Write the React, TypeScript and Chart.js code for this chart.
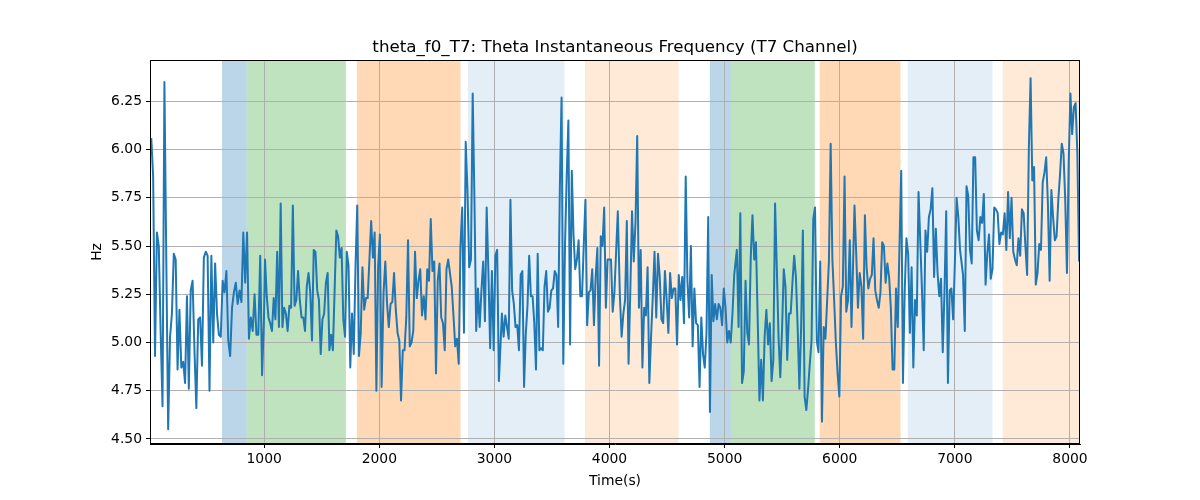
import React, { useEffect, useRef } from 'react';
import { Chart, registerables } from 'chart.js';

Chart.register(...registerables);

// samples, one list per stretch of the recording
const seg1 = [6.06, 5.86, 4.93, 5.57, 5.5, 5.05, 4.67, 6.35, 5.43, 4.55, 5.03, 5.15, 5.46, 5.43, 4.86, 5.17, 4.87, 4.9, 4.79, 5.24, 4.76, 5.27, 5.32, 4.96, 4.66, 5.12, 5.13, 4.88, 5.44, 5.47, 5.45, 4.75, 5.45, 5.0, 5.41, 5.15, 5.04, 5.03, 5.32, 5.26, 5.37, 5.01, 4.93, 5.18, 5.26, 5.31, 5.2, 5.27, 5.21, 5.57, 5.31, 5.57, 5.02, 5.13, 5.06, 5.25, 5.04, 5.04, 5.45, 4.83, 5.12];
const seg2 = [5.43, 5.24, 5.13, 5.1, 5.06, 5.23, 5.12, 5.47, 5.08, 5.72, 5.08, 5.18, 5.15, 5.06, 5.19, 5.18, 5.71, 5.19, 5.22, 5.37, 5.22, 5.13, 5.13, 5.06, 5.29, 5.36, 5.26, 5.01, 5.48, 5.47, 5.27, 5.22, 4.94, 5.12, 5.15, 5.31, 5.36, 4.96, 5.04, 4.96, 5.27, 5.58, 5.55, 5.44, 5.49, 5.12, 5.03, 5.47, 5.4, 4.87, 5.15, 4.94, 5.39, 5.71, 4.93, 5.05, 5.39, 5.17, 5.23, 5.23, 5.43, 5.63, 5.44, 5.57, 4.75, 5.39, 5.56, 4.77];
const seg3 = [5.26, 5.42, 5.2, 5.08, 5.2, 5.21, 5.36, 5.17, 5.05, 5.01, 4.7, 4.96, 4.96, 5.13, 5.53, 4.98, 5.0, 5.06, 5.47, 5.23, 5.32, 5.38, 5.14, 5.24, 5.12, 5.38, 5.32, 5.64, 5.37, 5.42, 4.84, 5.32, 5.41, 5.13, 5.1, 4.96, 5.38, 5.43, 5.36, 5.29, 5.14, 4.98, 5.02, 4.89, 5.5, 5.7, 5.05, 6.04, 5.79, 5.39, 5.43, 6.29, 5.74, 5.06, 5.28, 5.08, 5.27, 5.42, 5.11, 5.7, 5.36, 4.97, 5.37, 4.96, 5.45, 5.48, 4.8];
const seg4 = [5.15, 5.03, 5.14, 5.08, 5.02, 5.74, 5.27, 5.2, 5.08, 5.09, 4.96, 5.35, 5.37, 4.77, 5.04, 5.19, 5.45, 5.24, 5.24, 5.1, 4.86, 5.46, 4.96, 4.97, 4.96, 5.29, 5.37, 5.16, 5.18, 5.27, 5.28, 5.37, 5.35, 5.08, 5.81, 6.27, 4.89, 5.49, 5.86, 6.15, 4.99, 5.89, 5.56, 5.38, 5.43, 5.53, 5.24, 5.24, 5.5, 5.74, 5.09, 5.26, 5.27, 5.38, 5.09, 5.34, 5.49, 4.88, 5.55, 5.5, 5.7, 5.18, 5.43, 5.43, 5.43, 5.16, 5.26, 5.47, 5.68];
const seg5 = [5.24, 5.03, 5.15, 5.22, 5.63, 4.89, 5.26, 5.68, 5.42, 5.62, 6.07, 5.18, 5.48, 4.87, 5.18, 5.14, 5.39, 4.79, 5.03, 5.24, 5.47, 5.13, 5.46, 5.34, 5.12, 5.1, 5.37, 5.22, 5.05, 5.36, 5.23, 5.28, 5.28, 4.99, 5.35, 5.22, 5.34, 5.1, 5.86, 5.32, 5.13, 5.5, 4.98, 5.28, 5.1, 5.09, 4.77, 5.13, 4.94, 4.87, 5.05, 5.65, 4.64, 5.35, 5.11, 5.2, 5.12, 5.2, 5.18, 5.09, 5.28, 5.18, 5.0, 5.06, 5.0, 5.15, 5.35];
const seg6 = [5.48, 5.08, 5.67, 4.79, 4.85, 5.32, 5.05, 4.99, 5.44, 5.66, 5.43, 5.52, 5.12, 4.7, 4.91, 4.7, 5.03, 5.17, 4.99, 5.1, 4.8, 4.91, 5.72, 5.39, 5.03, 4.82, 5.06, 5.38, 5.29, 4.91, 5.15, 5.15, 5.31, 5.45, 5.34, 5.08, 4.76, 5.08, 5.58, 4.72, 4.65, 4.76, 4.89, 5.01, 5.64, 5.7, 5.01, 4.95, 5.42, 4.59, 5.08, 5.02, 5.22, 5.42, 6.03, 5.43, 5.22, 5.0, 4.84, 4.72, 5.24, 5.29, 5.86, 5.16, 5.22, 5.53, 5.08];
const seg7 = [5.34, 5.71, 5.46, 5.18, 5.36, 5.29, 5.02, 5.66, 5.39, 5.28, 5.33, 5.35, 5.54, 5.27, 5.22, 5.18, 5.26, 5.52, 5.5, 5.31, 5.41, 5.34, 5.18, 4.86, 4.86, 5.28, 5.08, 5.5, 5.89, 4.79, 5.26, 5.54, 5.46, 5.05, 5.39, 4.87, 5.22, 5.14, 5.78, 5.53, 5.27, 4.96, 5.58, 5.47, 5.65, 5.69, 5.8, 5.34, 5.59, 5.36, 5.24, 5.33, 4.95, 5.26, 5.68, 4.79, 5.27, 5.28, 5.12, 5.41, 5.75, 5.65, 5.48];
const seg8 = [5.35, 5.06, 5.81, 5.76, 5.48, 5.41, 5.96, 5.96, 5.58, 5.53, 5.65, 5.62, 5.77, 5.3, 5.46, 5.56, 5.33, 5.38, 5.7, 5.69, 5.67, 5.51, 5.57, 5.56, 5.67, 5.48, 5.78, 5.54, 5.75, 5.47, 5.43, 5.4, 5.54, 5.45, 5.69, 5.67, 5.5, 5.35, 6.01, 6.37, 5.84, 5.91, 5.3, 5.36, 5.51, 5.48, 5.83, 5.88, 5.96, 5.72, 5.32, 5.79, 5.65, 5.53, 5.55, 5.74, 5.87, 6.03, 5.98, 5.74, 5.36, 5.93, 6.29, 6.08, 6.22, 6.24, 5.98, 5.42];

const segments = [seg1, seg2, seg3, seg4, seg5, seg6, seg7, seg8];
// first and last sample time (s) of each stretch
const segStart = [19, 1007, 2037, 3065, 4090, 5106, 6113, 7071];
const segEnd = [998, 2020, 3039, 4072, 5083, 6102, 7045, 8079];

// shaded state intervals (s)
const spanStart = [633, 848, 1805, 2770, 3786, 4871, 5054, 5826, 6591, 7416];
const spanEnd = [848, 1710, 2706, 3609, 4600, 5054, 5783, 6528, 7327, 8200];
const spanColor = [
  'rgba(31,119,180,0.3)',
  'rgba(44,160,44,0.3)',
  'rgba(255,127,14,0.3)',
  'rgba(31,119,180,0.12)',
  'rgba(255,127,14,0.16)',
  'rgba(31,119,180,0.3)',
  'rgba(44,160,44,0.3)',
  'rgba(255,127,14,0.3)',
  'rgba(31,119,180,0.12)',
  'rgba(255,127,14,0.16)',
];

const xTicks = [1000, 2000, 3000, 4000, 5000, 6000, 7000, 8000];
const yTicks = [4.5, 4.75, 5.0, 5.25, 5.5, 5.75, 6.0, 6.25];

const FONT = '"DejaVu Sans", sans-serif';

const buildPoints = () => {
  const pts: { x: number; y: number }[] = [];
  segments.forEach((vals, i) => {
    const n = vals.length;
    vals.forEach((v, k) => {
      pts.push({ x: segStart[i] + ((segEnd[i] - segStart[i]) * k) / (n - 1), y: v });
    });
  });
  return pts;
};

const spansPlugin = {
  id: 'spans',
  beforeDraw(chart: Chart) {
    const { ctx, chartArea, scales } = chart;
    const xs = scales.x;
    ctx.save();
    ctx.beginPath();
    ctx.rect(chartArea.left, chartArea.top, chartArea.right - chartArea.left, chartArea.bottom - chartArea.top);
    ctx.clip();
    spanStart.forEach((s, i) => {
      const x0 = xs.getPixelForValue(s);
      const x1 = xs.getPixelForValue(spanEnd[i]);
      ctx.fillStyle = spanColor[i];
      ctx.fillRect(x0, chartArea.top, x1 - x0, chartArea.bottom - chartArea.top);
    });
    ctx.restore();
  },
};

const framePlugin = {
  id: 'frame',
  afterDraw(chart: Chart) {
    const { ctx, chartArea } = chart;
    ctx.save();
    ctx.strokeStyle = '#000';
    ctx.lineWidth = 1;
    ctx.strokeRect(
      Math.round(chartArea.left) + 0.5,
      Math.round(chartArea.top) + 0.5,
      Math.round(chartArea.right - chartArea.left) - 1,
      Math.round(chartArea.bottom - chartArea.top) - 1
    );
    ctx.fillStyle = '#000';
    ctx.textAlign = 'center';
    ctx.textBaseline = 'alphabetic';
    ctx.font = `16.7px ${FONT}`;
    const cx = (chartArea.left + chartArea.right) / 2;
    ctx.fillText('theta_f0_T7: Theta Instantaneous Frequency (T7 Channel)', cx, 52);
    ctx.font = `13.9px ${FONT}`;
    ctx.fillText('Time(s)', cx, 485);
    ctx.translate(101, (chartArea.top + chartArea.bottom) / 2);
    ctx.rotate(-Math.PI / 2);
    ctx.fillText('Hz', 0, 0);
    ctx.restore();
  },
};

const App = () => {
  const canvasRef = useRef<HTMLCanvasElement>(null);

  useEffect(() => {
    if (!canvasRef.current) return;
    const chart = new Chart(canvasRef.current, {
      type: 'line',
      data: {
        datasets: [
          {
            data: buildPoints(),
            borderColor: '#1f77b4',
            borderWidth: 2,
            borderJoinStyle: 'round',
            pointRadius: 0,
            tension: 0,
            fill: false,
          },
        ],
      },
      options: {
        animation: false,
        responsive: false,
        devicePixelRatio: 1,
        layout: { padding: { top: 60, right: 120, left: 0, bottom: 0 } },
        plugins: {
          legend: { display: false },
          tooltip: { enabled: false },
          title: { display: false },
        },
        scales: {
          x: {
            type: 'linear',
            min: 8,
            max: 8087,
            afterFit: (s: any) => {
              s.height = 56;
            },
            afterBuildTicks: (s: any) => {
              s.ticks = xTicks.map((v) => ({ value: v }));
            },
            grid: { color: '#b0b0b0', lineWidth: 1, tickColor: '#000', tickLength: 4 },
            border: { color: '#000', width: 1 },
            ticks: {
              color: '#000',
              padding: 3,
              maxRotation: 0,
              autoSkip: false,
              font: { family: FONT, size: 13.9 },
              callback: (v: any) => String(v),
            },
          },
          y: {
            type: 'linear',
            min: 4.474,
            max: 6.464,
            afterFit: (s: any) => {
              s.width = 150;
            },
            afterBuildTicks: (s: any) => {
              s.ticks = yTicks.map((v) => ({ value: v }));
            },
            grid: { color: '#b0b0b0', lineWidth: 1, tickColor: '#000', tickLength: 4 },
            border: { color: '#000', width: 1 },
            ticks: {
              color: '#000',
              padding: 4,
              autoSkip: false,
              font: { family: FONT, size: 13.9 },
              callback: (v: any) => Number(v).toFixed(2),
            },
          },
        },
      },
      plugins: [spansPlugin, framePlugin],
    });
    return () => chart.destroy();
  }, []);

  return (
    <div style={{ position: 'absolute', left: 0, top: 0, width: 1200, height: 500, background: '#fff' }}>
      <canvas ref={canvasRef} width={1200} height={500} />
    </div>
  );
};

export default App;
